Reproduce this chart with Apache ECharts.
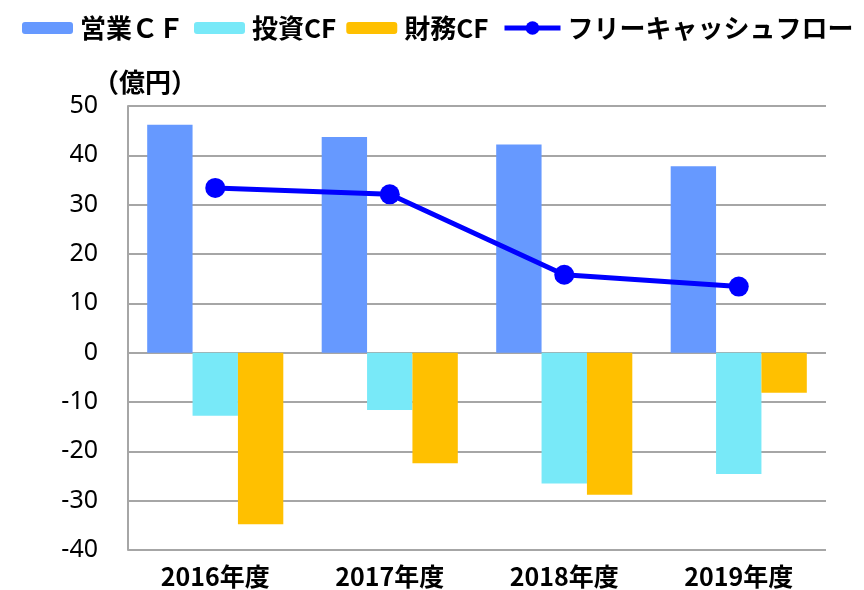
<!DOCTYPE html>
<html>
<head>
<meta charset="utf-8">
<script src="https://cdn.jsdelivr.net/npm/echarts@6/dist/echarts.min.js"></script>
<style>
html, body { margin: 0; padding: 0; background: #fff; }
#chart-main { width: 864px; height: 590px; }
</style>
</head>
<body>
<div id="chart-main"></div>
<script>
// 年度
const years = ["2016年度", "2017年度", "2018年度", "2019年度"];
// 億円
const operatingCF = [46.2, 43.7, 42.2, 37.8];
const investingCF = [-12.8, -11.6, -26.5, -24.6];
const financingCF = [-34.8, -22.4, -28.8, -8.1];
const freeCF = [33.4, 32.1, 15.8, 13.4];
const yTicks = { min: -40, max: 50, interval: 10 };

const jpFont = '"Noto Sans CJK JP", "Noto Sans", sans-serif';
const gridColor = "#a6a6a6";

let chart = echarts.init(document.getElementById("chart-main"));

const legendText = {
    fontSize: 26,
    fontWeight: "bold",
    color: "#000",
    fontFamily: jpFont,
    padding: [0, 0, 0, 2],
};

let option = {
    animation: false,
    textStyle: { fontFamily: jpFont },
    title: {
        text: "（億円）",
        left: 88,
        top: 64,
        textStyle: { fontSize: 26, fontWeight: "bold", color: "#000", fontFamily: jpFont },
    },
    legend: [
        {
            left: 17,
            top: 10,
            itemWidth: 51,
            itemHeight: 12,
            itemGap: 10,
            textStyle: legendText,
            data: ["営業ＣＦ", "投資CF", "財務CF"],
        },
        {
            left: 497,
            top: 10,
            itemWidth: 56,
            itemHeight: 17,
            textStyle: legendText,
            lineStyle: { width: 5 },
            data: ["フリーキャッシュフロー"],
        },
    ],
    grid: {
        left: 128,
        right: 38,
        top: 106,
        bottom: 40,
        containLabel: false,
    },
    xAxis: {
        type: "category",
        data: years,
        axisLine: { show: false },
        axisTick: { show: false },
        axisLabel: {
            margin: 14,
            fontSize: 25,
            fontWeight: "bold",
            color: "#000",
            fontFamily: jpFont,
        },
    },
    yAxis: {
        type: "value",
        min: yTicks.min,
        max: yTicks.max,
        interval: yTicks.interval,
        axisLine: { show: true, lineStyle: { color: gridColor, width: 2 } },
        axisTick: { show: false },
        axisLabel: {
            margin: 30,
            fontSize: 25,
            color: "#000",
            fontFamily: '"Noto Sans", sans-serif',
        },
        splitLine: { show: true, lineStyle: { color: gridColor, width: 2 } },
    },
    series: [
        {
            name: "営業ＣＦ",
            type: "bar",
            data: operatingCF,
            barGap: "0%",
            barCategoryGap: "22%",
            itemStyle: { color: "#6699ff" },
        },
        {
            name: "投資CF",
            type: "bar",
            data: investingCF,
            itemStyle: { color: "#78e9f8" },
        },
        {
            name: "財務CF",
            type: "bar",
            data: financingCF,
            itemStyle: { color: "#ffc000" },
        },
        {
            name: "フリーキャッシュフロー",
            type: "line",
            data: freeCF,
            symbol: "circle",
            symbolSize: 20,
            lineStyle: { color: "#0000ff", width: 5 },
            itemStyle: { color: "#0000ff" },
            z: 5,
        },
    ],
};

chart.setOption(option);
</script>
</body>
</html>
